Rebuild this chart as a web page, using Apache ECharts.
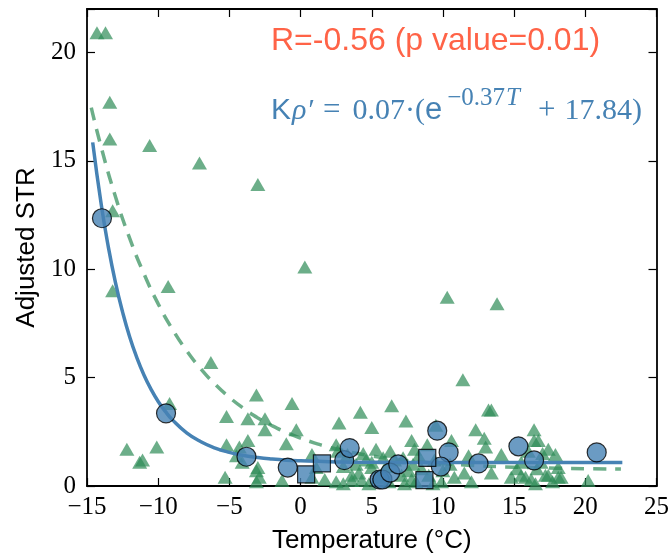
<!DOCTYPE html>
<html>
<head>
<meta charset="utf-8">
<script src="https://cdn.jsdelivr.net/npm/echarts@6/dist/echarts.min.js"></script>
<style>
html,body{margin:0;padding:0;background:#fff;}
#chart{width:672px;height:559px;}
</style>
</head>
<body>
<div id="chart"></div>
<script>
// ---- data ----
const triangles = [
  [-14.3,20.9],[-13.7,20.9],[-13.4,17.7],[-13.4,16.0],[-10.6,15.7],[-7.1,14.9],[-3.0,13.9],
  [-13.2,12.7],[0.3,10.1],[-13.2,9.0],[-9.3,9.2],[-6.3,5.7],[10.3,8.7],[13.8,8.4],[11.4,4.9],
  [-3.1,4.2],[-0.6,3.8],[-5.2,3.2],[-9.2,3.8],[-3.7,3.1],[-2.5,3.1],[-2.5,2.6],[-0.3,2.6],
  [2.7,2.9],[4.2,3.4],[-12.2,1.7],[-10.1,1.8],[-11.1,1.2],[-11.3,1.1],[-5.2,1.9],[-3.7,2.1],
  [-4.3,1.8],[-1.0,1.95],[-3.1,0.7],[-2.9,0.4],[-5.3,0.4],[-3.1,0.2],[-4.1,1.1],[0.8,1.45],
  [2.6,1.6],[3.3,1.45],[2.5,0.2],[3.6,0.5],[3.6,0.25],[-1.3,0.25],[-3.0,0.85],[4.1,0.6],
  [4.3,0.25],[5.0,0.85],[1.1,0.85],[0.8,0.4],[-4.5,1.4],[2.5,1.9],
  [6.4,3.7],[5.0,2.7],[7.4,3.0],[13.2,3.5],[13.4,3.5],[12.3,2.6],[12.9,2.2],[16.4,2.6],
  [7.8,2.1],[9.5,2.8],[10.6,2.1],[8.9,1.9],[13.0,1.8],[16.4,2.1],[16.7,2.1],[17.4,1.7],
  [17.9,1.45],[14.1,1.45],[6.3,1.6],[11.5,0.6],[13.4,0.6],[15.5,0.5],[17.2,0.5],[18.1,0.4],
  [20.2,0.25],[7.6,0.7],[9.9,0.2],[7.1,0.5],[7.8,0.3],[5.0,1.1],[5.5,0.4],[15.5,1.1],
  [16.9,1.1],[18.1,0.85],[17.4,0.5],[18.3,0.4],[15.8,0.4],[16.2,0.3],[14.8,0.4],
  [4.6,1.2],[5.8,1.3],[6.0,0.9],[6.6,1.2],[7.2,1.3],[7.9,1.0],[8.3,1.4],[8.5,0.8],[9.0,0.5],
  [9.4,1.2],[10.0,0.7],[10.5,1.0],[10.8,0.4],[4.8,0.1],[6.2,0.2],[7.3,0.1],[8.1,0.2],[9.3,0.1],
  [11.8,1.4],[12.0,0.2],[4.4,1.5],[3.9,1.0],[3.0,0.9],[5.3,1.7],[8.0,1.7],[16.0,1.6],[17.0,1.5],
  [15.2,0.8],[16.6,0.8],[17.7,0.2],[16.5,0.1],[1.7,0.3],[3.0,0.1]
];
const circles = [
  [-13.95,12.35],[-9.45,3.35],[-3.8,1.35],[-0.9,0.85],[3.07,1.19],[3.45,1.75],[5.55,0.3],
  [5.75,0.3],[6.3,0.62],[6.86,1.0],[9.6,2.55],[10.4,1.55],[9.85,0.9],[12.5,1.04],
  [15.3,1.83],[16.4,1.18],[20.8,1.55]
];
const squares = [[0.39,0.54],[1.5,1.04],[8.9,1.3],[8.7,0.27]];
const fitBlueT = [-14.6,-14,-13.5,-13,-12.5,-12,-11.5,-11,-10.5,-10,-9.5,-9,-8,-7,-6,-5,-4,-3,-2,-1,0,2,5,10,22.6];
const fitBlueV = [15.85,12.98,11.02,9.38,8.02,6.87,5.92,5.12,4.46,3.90,3.44,3.05,2.45,2.04,1.75,1.55,1.41,1.31,1.24,1.19,1.16,1.12,1.09,1.08,1.08];
const fitGreenT = [-14.7,-14,-13,-12,-11,-10,-9,-8,-7,-6,-5,-4,-3,-2,-1,0,1,2,3,4,5,6,8,10,12,14,16,18,20,22.5];
const fitGreenV = [17.45,15.62,13.34,11.42,9.79,8.40,7.23,6.24,5.40,4.69,4.09,3.58,3.14,2.78,2.47,2.21,1.98,1.79,1.64,1.50,1.39,1.29,1.14,1.03,0.95,0.89,0.85,0.82,0.80,0.78];
const xTicks = [-15,-10,-5,0,5,10,15,20,25];
const yTicks = [0,5,10,15,20];

const zip = (a,b) => a.map((v,i)=>[v,b[i]]);
const fmt = v => v < 0 ? '\u2212' + Math.abs(v) : String(v);
const green = '#2e8b57', blue = '#4682b4';
const tickFont = {fontFamily:'Liberation Serif', fontSize:25, color:'#000'};

const chart = echarts.init(document.getElementById('chart'), null, {renderer:'canvas'});
const baseX = {type:'value', min:-15, max:25, interval:5, splitLine:{show:false},
  axisLine:{onZero:false, lineStyle:{color:'#000', width:1.8}},
  axisTick:{inside:true, length:8, lineStyle:{color:'#000', width:1.2}}};
const baseY = {type:'value', min:0, max:22, interval:5, splitLine:{show:false},
  axisLine:{onZero:false, lineStyle:{color:'#000', width:1.8}},
  axisTick:{inside:true, length:8, lineStyle:{color:'#000', width:1.2}}};
const S = (size, extra) => Object.assign({fontFamily:'Liberation Serif', fontSize:size, fill:blue, lineHeight:40, verticalAlign:'bottom'}, extra || {});
chart.setOption({
  animation:false,
  backgroundColor:'#fff',
  grid:{left:87, right:13, top:9, bottom:70},
  xAxis:[
    Object.assign({}, baseX, {position:'bottom',
      axisLabel:Object.assign({margin:9, formatter:v => xTicks.includes(v) ? fmt(v) : ''}, tickFont),
      name:'Temperature (\u00b0C)', nameLocation:'middle', nameGap:42,
      nameTextStyle:{fontFamily:'Liberation Sans', fontSize:26, color:'#000'}}),
    Object.assign({}, baseX, {position:'top', axisLabel:{show:false}})
  ],
  yAxis:[
    Object.assign({}, baseY, {position:'left',
      axisLabel:Object.assign({margin:11, formatter:v => yTicks.includes(v) ? fmt(v) : ''}, tickFont),
      name:'Adjusted STR', nameLocation:'middle', nameGap:47,
      nameTextStyle:{fontFamily:'Liberation Sans', fontSize:26, color:'#000'}}),
    Object.assign({}, baseY, {position:'right', axisLabel:{show:false}})
  ],
  series:[
    {type:'scatter', data:triangles, symbol:'triangle', symbolSize:[15,13],
     itemStyle:{color:green, opacity:0.7}, z:2},
    {type:'line', data:zip(fitGreenT, fitGreenV), smooth:true, showSymbol:false,
     lineStyle:{color:green, opacity:0.7, width:3.5, type:[13,9]}, z:3},
    {type:'line', data:zip(fitBlueT, fitBlueV), smooth:true, showSymbol:false,
     lineStyle:{color:blue, width:3.5}, z:4},
    {type:'scatter', data:circles, symbol:'circle', symbolSize:19,
     itemStyle:{color:blue, borderColor:'#000', borderWidth:1.2}, z:5},
    {type:'scatter', data:squares, symbol:'rect', symbolSize:17,
     itemStyle:{color:blue, borderColor:'#000', borderWidth:1.2}, z:5}
  ],
  graphic:[
    {type:'text', left:271, top:25, z:10,
     style:{text:'R=-0.56 (p value=0.01)', fill:'#ff6347', font:'32px "Liberation Sans"'}},
    {type:'text', left:271, top:86, z:10,
     style:{text:'{k|K}{r|\u03c1\u2032}{eq|=}{n|0.07\u00b7(}{e|e}{p|\u22120.37}{pi|T}{pl|+}{n|17.84)}',
       fill:blue,
       rich:{
         k:{fontFamily:'Liberation Sans', fontSize:30, fill:blue, lineHeight:40, verticalAlign:'bottom'},
         r:S(30, {fontStyle:'italic', padding:[0,0,0,1]}),
         eq:S(31, {padding:[0,12,0,10]}),
         n:S(30),
         e:{fontFamily:'Liberation Sans', fontSize:31, fill:blue, lineHeight:40, verticalAlign:'bottom', padding:[0,2,0,0]},
         p:{fontFamily:'Liberation Serif', fontSize:25, fill:blue, lineHeight:14, verticalAlign:'top', padding:[0,0,0,3]},
         pi:{fontFamily:'Liberation Serif', fontStyle:'italic', fontSize:25, fill:blue, lineHeight:14, verticalAlign:'top', padding:[0,0,0,1]},
         pl:S(31, {padding:[0,9,0,18]})
       }}}
  ]
});
</script>
</body>
</html>
